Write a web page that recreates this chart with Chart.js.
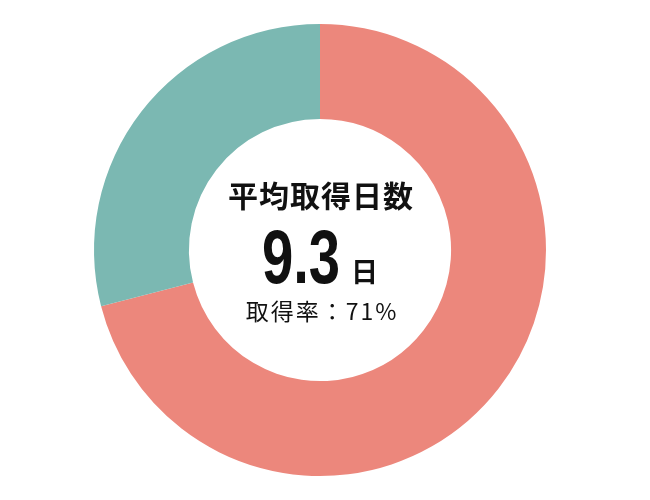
<!DOCTYPE html>
<html>
<head>
<meta charset="utf-8">
<script src="https://cdn.jsdelivr.net/npm/chart.js@4"></script>
<style>
  html, body { margin: 0; padding: 0; background: #fff; }
  #wrap { width: 650px; height: 500px; }
</style>
</head>
<body>
<div id="wrap"><canvas id="donut" width="650" height="500"></canvas></div>
<script>
const labels = ['取得', '未取得'];
const values = [71, 29];
const colors = ['#EC877C', '#7BB8B2'];
const title = '平均取得日数';
const avgDays = '9.3';
const unit = '日';
const rateText = '取得率：71%';

const centerText = {
    id: 'centerText',
    afterDraw(chart) {
        const ctx = chart.ctx;
        const a = chart.chartArea;
        const cx = (a.left + a.right) / 2;
        const cy = (a.top + a.bottom) / 2;
        ctx.save();
        ctx.fillStyle = '#111';
        ctx.textBaseline = 'middle';
        ctx.textAlign = 'center';

        ctx.letterSpacing = '1px';
        ctx.font = 'bold 30px "Noto Sans CJK JP"';
        ctx.fillText(title, cx + 1, cy - 54);
        ctx.letterSpacing = '0px';

        // big number, horizontally condensed
        const sx = 0.74;
        ctx.font = 'bold 76px "Liberation Sans"';
        const w1 = ctx.measureText(avgDays).width * sx;
        ctx.font = 'bold 27px "Noto Sans CJK JP"';
        const w2 = ctx.measureText(unit).width;
        const gap = 11;
        const start = cx - (w1 + gap + w2) / 2;
        ctx.textAlign = 'left';
        ctx.textBaseline = 'alphabetic';
        ctx.save();
        ctx.translate(start, cy + 33);
        ctx.scale(sx, 1);
        ctx.font = 'bold 76px "Liberation Sans"';
        ctx.fillText(avgDays, 0, 0);
        ctx.restore();
        ctx.font = 'bold 27px "Noto Sans CJK JP"';
        ctx.fillText(unit, start + w1 + gap, cy + 32);

        ctx.textAlign = 'center';
        ctx.textBaseline = 'middle';
        ctx.letterSpacing = '2px';
        ctx.font = '23px "Noto Sans CJK JP"';
        ctx.fillText(rateText, cx + 2, cy + 61);
        ctx.restore();
    }
};

new Chart(document.getElementById('donut').getContext('2d'), {
    type: 'doughnut',
    data: {
        labels: labels,
        datasets: [{
            data: values,
            backgroundColor: colors,
            borderWidth: 0
        }]
    },
    options: {
        responsive: false,
        animation: false,
        cutout: '58%',
        layout: { padding: { top: 24, bottom: 24, left: 0, right: 10 } },
        plugins: {
            legend: { display: false },
            tooltip: { enabled: false }
        }
    },
    plugins: [centerText]
});
</script>
</body>
</html>
